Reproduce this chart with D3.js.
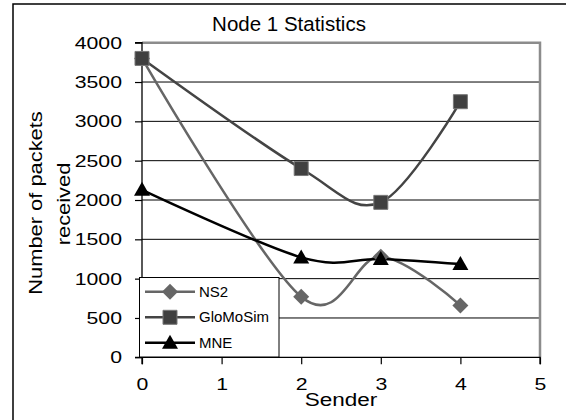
<!DOCTYPE html>
<html>
<head>
<meta charset="utf-8">
<script src="https://cdn.jsdelivr.net/npm/d3@7"></script>
<style>
  html, body { margin: 0; padding: 0; background: #fff; }
  svg { display: block; font-family: "Liberation Sans", Arial, sans-serif; }
</style>
</head>
<body>
<svg id="chart" width="566" height="420"></svg>
<script>
const senders = [0, 2, 3, 4];
const ns2 = [3800, 770, 1280, 660];
const gloMoSim = [3800, 2400, 1970, 3250];
const mne = [2130, 1270, 1250, 1185];
const xTicks = [0, 1, 2, 3, 4, 5];
const yTicks = [0, 500, 1000, 1500, 2000, 2500, 3000, 3500, 4000];
const seriesNames = ["NS2", "GloMoSim", "MNE"];

(function () {
const svg = d3.select("#chart");
const pL = 142, pR = 540, pT = 42.7, pB = 357.3;
const SX = 1.25; // horizontal glyph stretch seen in the reference
const x = d3.scaleLinear().domain([0, 5]).range([pL, pR]);
const y = d3.scaleLinear().domain([0, 4000]).range([pB, pT]);

// outer frame
svg.append("rect").attr("x", 13).attr("y", 4).attr("width", 600).attr("height", 500)
  .attr("fill", "#fff").attr("stroke", "#000").attr("stroke-width", 1.5);

// title
svg.append("text").attr("x", 289).attr("y", 31).attr("text-anchor", "middle")
  .attr("font-size", 20.5).text("Node 1 Statistics");

// gridlines
svg.append("g").selectAll("line").data(yTicks.filter(d => d > 0 && d < 4000)).join("line")
  .attr("x1", pL).attr("x2", pR).attr("y1", d => y(d)).attr("y2", d => y(d))
  .attr("stroke", "#000").attr("stroke-width", 1);

// plot border top/right gray
svg.append("path").attr("d", `M${pL},${pT}H${pR}V${pB}`)
  .attr("fill", "none").attr("stroke", "#8c8c8c").attr("stroke-width", 2.5);

// axes
const yAxis = d3.axisLeft(y).tickValues(yTicks).tickSize(7).tickFormat(d3.format("d"));
const gy = svg.append("g").attr("transform", `translate(${pL},0)`).call(yAxis);
const xAxis = d3.axisBottom(x).tickValues(xTicks).tickSize(7).tickPadding(14).tickFormat(d3.format("d"));
const gx = svg.append("g").attr("transform", `translate(0,${pB})`).call(xAxis);
[gy, gx].forEach(g => {
  g.select(".domain").attr("stroke", "#000").attr("stroke-width", 1.3);
  g.selectAll(".tick line").attr("stroke", "#000").attr("stroke-width", 1.2);
  g.selectAll("text").attr("font-size", 17).attr("fill", "#000")
    .attr("font-family", "Liberation Sans, Arial, sans-serif")
    .attr("transform", `scale(${SX},1)`);
});
gy.selectAll(".tick text").attr("x", -20 / SX);
gx.selectAll(".tick text").attr("x", 0);
gy.select(".domain").attr("d", `M-7,${pB}H0V${pT}H-7`);
gx.select(".domain").attr("d", `M${pL},7V0H${pR}V7`);

// axis titles
svg.append("text").attr("transform", `translate(42,203) rotate(-90) scale(${SX},1)`).attr("text-anchor", "middle")
  .attr("font-size", 17.5).text("Number of packets");
svg.append("text").attr("transform", `translate(70,204) rotate(-90) scale(${SX},1)`).attr("text-anchor", "middle")
  .attr("font-size", 17.5).text("received");
svg.append("text").attr("transform", `translate(341,406) scale(${SX},1)`).attr("text-anchor", "middle")
  .attr("font-size", 18).text("Sender");

const line = d3.line().x((d, i) => x(senders[i])).y(d => y(d)).curve(d3.curveCatmullRom.alpha(0));
const styles = [
  { data: ns2, color: "#666666", kind: "diamond", fill: "#666666" },
  { data: gloMoSim, color: "#444444", kind: "square", fill: "#404040" },
  { data: mne, color: "#000000", kind: "triangle", fill: "#000000" }
];
function markerPath(st) {
  if (st.kind === "square") return "M-7,-7H7V7H-7Z";
  if (st.kind === "diamond") return "M0,-8L8,0L0,8L-8,0Z";
  return "M0,-8L8,6H-8Z";
}

styles.forEach(st => {
  svg.append("path").attr("d", line(st.data)).attr("fill", "none")
    .attr("stroke", st.color).attr("stroke-width", 2.5);
});
[0, 2, 1].forEach(k => {
  const st = styles[k];
  svg.append("g").selectAll("path").data(st.data).join("path")
    .attr("transform", (d, i) => `translate(${x(senders[i])},${y(d)})`)
    .attr("d", markerPath(st)).attr("fill", st.fill)
    .attr("stroke", k === 1 ? "#777" : "none").attr("stroke-width", 1);
});

// legend
const lg = svg.append("g");
lg.append("rect").attr("x", 139.5).attr("y", 277.5).attr("width", 139.5).attr("height", 79.5)
  .attr("fill", "#fff").attr("stroke", "#000").attr("stroke-width", 1);
const legendY = [291.7, 317.3, 342.7];
styles.forEach((st, i) => {
  const yy = legendY[i];
  lg.append("line").attr("x1", 145).attr("x2", 195).attr("y1", yy).attr("y2", yy)
    .attr("stroke", st.color).attr("stroke-width", 2.5);
  lg.append("path").attr("transform", `translate(170,${yy})`).attr("d", markerPath(st))
    .attr("fill", st.fill).attr("stroke", i === 1 ? "#777" : "none");
  lg.append("text").attr("x", 199).attr("y", yy + 5).attr("font-size", 15).text(seriesNames[i]);
});
})();
</script>
</body>
</html>
